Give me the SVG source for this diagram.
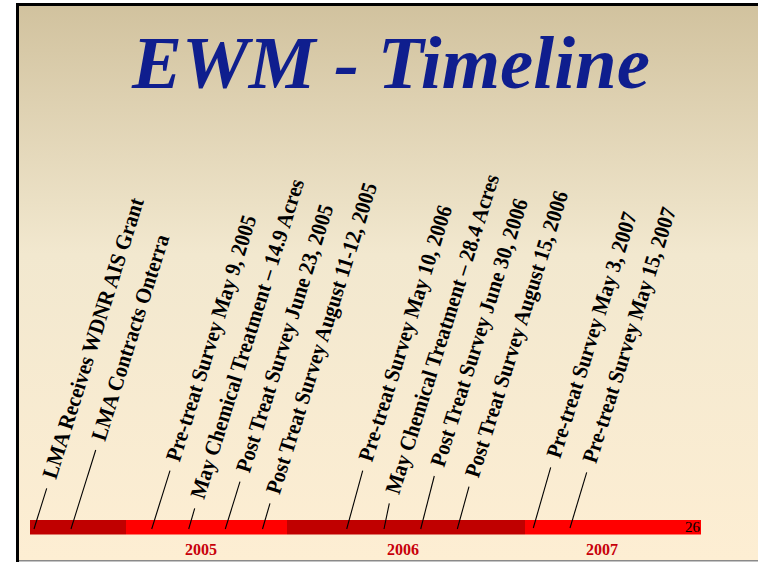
<svg xmlns="http://www.w3.org/2000/svg" width="758" height="562" viewBox="0 0 758 562">
  <defs>
    <linearGradient id="bg" x1="0" y1="0" x2="0" y2="1">
      <stop offset="0" stop-color="#D1C29E"/>
      <stop offset="0.45" stop-color="#F2E8CF"/>
      <stop offset="1" stop-color="#FDEED3"/>
    </linearGradient>
    <style>
      .title { font-family: "Liberation Serif", "Times New Roman", serif; font-weight: bold; font-style: italic; font-size: 75px; fill: #0F1E8E; }
      .label { font-family: "Liberation Serif", "Times New Roman", serif; font-weight: bold; font-size: 22px; fill: #000; }
      .year { font-family: "Liberation Serif", "Times New Roman", serif; font-weight: bold; font-size: 16px; fill: #C8000A; text-anchor: middle; }
      .page { font-family: "Liberation Serif", "Times New Roman", serif; font-size: 15px; fill: #000; text-anchor: end; }
      .leader { stroke: #000; stroke-width: 1.1; fill: none; }
      .dark { fill: #C00000; }
      .bright { fill: #FF0000; }
    </style>
  </defs>

  <!-- page and slide background -->
  <rect x="0" y="0" width="758" height="562" fill="#FFFFFF"/>
  <rect x="17" y="4" width="745" height="556" fill="url(#bg)"/>
  <line x1="17.5" y1="3" x2="17.5" y2="562" stroke="#000" stroke-width="3"/>
  <line x1="16" y1="4.5" x2="758" y2="4.5" stroke="#000" stroke-width="3"/>
  <line x1="19" y1="560.8" x2="758" y2="560.8" stroke="#8A8A8A" stroke-width="1.5"/>

  <!-- heading -->
  <text class="title" x="391" y="88" text-anchor="middle">EWM - Timeline</text>

  <!-- timeline bar -->
  <g id="bar">
    <rect class="dark" x="30" y="520" width="96" height="14.5"/>
    <rect class="bright" x="126" y="520" width="161" height="14.5"/>
    <rect class="dark" x="287" y="520" width="238" height="14.5"/>
    <rect class="bright" x="525" y="520" width="176" height="14.5"/>
    <text class="page" x="700" y="532">26</text>
  </g>

  <!-- year captions -->
  <g id="years">
    <text class="year" x="201" y="555">2005</text>
    <text class="year" x="403" y="555">2006</text>
    <text class="year" x="602" y="555">2007</text>
  </g>

  <!-- leader lines from the bar to each event -->
  <g id="connectors">
    <line class="leader" x1="34" y1="529" x2="46.7" y2="488.3"/>
    <line class="leader" x1="71" y1="529" x2="95.7" y2="450"/>
    <line class="leader" x1="151.7" y1="529" x2="170" y2="470.7"/>
    <line class="leader" x1="188.7" y1="529" x2="194.7" y2="508.3"/>
    <line class="leader" x1="225.3" y1="529" x2="240" y2="481.7"/>
    <line class="leader" x1="262.5" y1="529" x2="270" y2="503.3"/>
    <line class="leader" x1="346.7" y1="529" x2="362.7" y2="470.7"/>
    <line class="leader" x1="384" y1="529" x2="389.3" y2="503.3"/>
    <line class="leader" x1="420.7" y1="529" x2="434.3" y2="476"/>
    <line class="leader" x1="457.3" y1="529" x2="469" y2="486.7"/>
    <line class="leader" x1="533.3" y1="528" x2="550.7" y2="467.3"/>
    <line class="leader" x1="570" y1="528" x2="586.7" y2="472.3"/>
  </g>

  <!-- event labels (slightly condensed bold serif, rotated along the leaders) -->
  <g id="ev-grant"><text class="label" transform="translate(56,480) rotate(-72.5) scale(0.93,1)">LMA Receives WDNR AIS Grant</text></g>
  <g id="ev-onterra"><text class="label" transform="translate(105,442) rotate(-72.5) scale(0.93,1)">LMA Contracts Onterra</text></g>
  <g id="ev-pre-2005"><text class="label" transform="translate(179.5,462.7) rotate(-72.5) scale(0.93,1)">Pre-treat Survey May 9, 2005</text></g>
  <g id="ev-chem-2005"><text class="label" transform="translate(204,500) rotate(-72.5) scale(0.93,1)">May Chemical Treatment – 14.9 Acres</text></g>
  <g id="ev-post-jun-2005"><text class="label" transform="translate(249.5,473.7) rotate(-72.5) scale(0.93,1)">Post Treat Survey June 23, 2005</text></g>
  <g id="ev-post-aug-2005"><text class="label" transform="translate(279.5,495.3) rotate(-72.5) scale(0.93,1)">Post Treat Survey August 11-12, 2005</text></g>
  <g id="ev-pre-2006"><text class="label" transform="translate(372,462.7) rotate(-72.5) scale(0.93,1)">Pre-treat Survey May 10, 2006</text></g>
  <g id="ev-chem-2006"><text class="label" transform="translate(399,495.3) rotate(-72.5) scale(0.93,1)">May Chemical Treatment – 28.4 Acres</text></g>
  <g id="ev-post-jun-2006"><text class="label" transform="translate(444,468) rotate(-72.5) scale(0.93,1)">Post Treat Survey June 30, 2006</text></g>
  <g id="ev-post-aug-2006"><text class="label" transform="translate(478.5,478.7) rotate(-72.5) scale(0.93,1)">Post Treat Survey August 15, 2006</text></g>
  <g id="ev-pre-may3-2007"><text class="label" transform="translate(560,459.3) rotate(-72.5) scale(0.93,1)">Pre-treat Survey May 3, 2007</text></g>
  <g id="ev-pre-may15-2007"><text class="label" transform="translate(596,464.3) rotate(-72.5) scale(0.93,1)">Pre-treat Survey May 15, 2007</text></g>
</svg>
